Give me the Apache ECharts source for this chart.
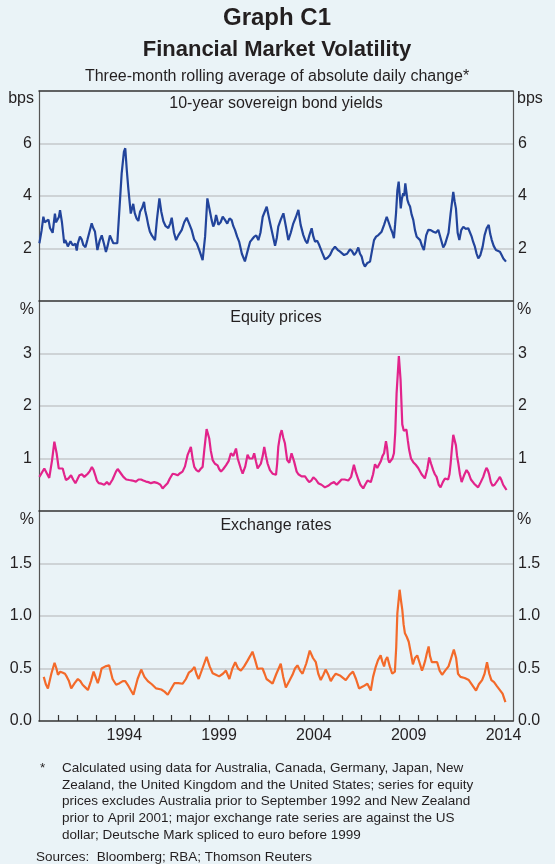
<!DOCTYPE html>
<html><head><meta charset="utf-8">
<script src="https://cdn.jsdelivr.net/npm/echarts@6/dist/echarts.min.js"></script>
<style>html,body{margin:0;padding:0;background:#EAF3F7;}#c{width:555px;height:864px;}</style>
</head><body><div id="c"></div>
<script>
// ---- data: [decimal year, value] ----
const bondYields = [[1990.02,2.2],[1990.14,2.7],[1990.23,3.21],[1990.3,3.0],[1990.4,2.96],[1990.5,3.1],[1990.58,2.78],[1990.72,2.6],[1990.84,3.33],[1990.9,3.0],[1990.97,2.96],[1991.05,3.2],[1991.11,3.46],[1991.21,3.0],[1991.33,2.2],[1991.38,2.32],[1991.46,2.2],[1991.52,2.08],[1991.6,2.1],[1991.66,2.28],[1991.72,2.25],[1991.78,2.12],[1991.85,2.05],[1991.92,2.18],[1991.99,1.92],[1992.05,2.2],[1992.16,2.45],[1992.25,2.35],[1992.34,2.13],[1992.45,2.05],[1992.55,2.32],[1992.65,2.6],[1992.78,2.96],[1992.85,2.8],[1992.95,2.65],[1993.08,1.94],[1993.2,2.3],[1993.31,2.5],[1993.42,2.2],[1993.53,1.87],[1993.62,2.1],[1993.74,2.5],[1993.83,2.35],[1993.92,2.2],[1994.13,2.2],[1994.24,3.47],[1994.36,4.86],[1994.48,5.69],[1994.55,5.82],[1994.63,4.99],[1994.71,4.29],[1994.84,3.33],[1994.97,3.7],[1995.05,3.35],[1995.15,3.14],[1995.24,3.05],[1995.33,3.4],[1995.44,3.55],[1995.54,3.78],[1995.6,3.45],[1995.68,3.2],[1995.76,2.9],[1995.85,2.64],[1995.95,2.5],[1996.12,2.32],[1996.22,3.1],[1996.35,3.91],[1996.45,3.4],[1996.56,3.04],[1996.68,2.85],[1996.82,2.78],[1996.92,2.95],[1997.0,3.17],[1997.12,2.6],[1997.23,2.32],[1997.35,2.5],[1997.53,2.71],[1997.66,3.0],[1997.79,3.17],[1997.92,2.95],[1998.05,2.71],[1998.18,2.35],[1998.32,2.2],[1998.45,1.95],[1998.63,1.56],[1998.76,2.45],[1998.88,3.91],[1999.02,3.4],[1999.1,3.1],[1999.19,2.84],[1999.26,2.95],[1999.34,3.28],[1999.4,3.1],[1999.46,2.9],[1999.58,3.0],[1999.69,3.21],[1999.8,3.1],[1999.93,2.95],[2000.05,3.15],[2000.16,3.08],[2000.25,2.85],[2000.34,2.7],[2000.45,2.45],[2000.56,2.25],[2000.7,1.8],[2000.86,1.51],[2001.0,1.9],[2001.13,2.25],[2001.24,2.35],[2001.34,2.44],[2001.46,2.5],[2001.57,2.32],[2001.68,2.6],[2001.8,3.21],[2002.01,3.59],[2002.18,3.0],[2002.3,2.6],[2002.45,2.1],[2002.54,2.4],[2002.62,2.83],[2002.75,3.1],[2002.89,3.34],[2003.02,2.85],[2003.15,2.32],[2003.28,2.6],[2003.41,2.95],[2003.55,3.2],[2003.68,3.47],[2003.8,2.9],[2003.94,2.51],[2004.05,2.3],[2004.15,2.2],[2004.26,2.5],[2004.38,2.77],[2004.47,2.45],[2004.56,2.26],[2004.67,2.3],[2004.78,2.13],[2004.93,1.85],[2005.08,1.59],[2005.22,1.65],[2005.35,1.75],[2005.48,1.95],[2005.61,2.07],[2005.75,1.95],[2005.88,1.88],[2005.98,1.85],[2006.09,1.75],[2006.25,1.8],[2006.4,1.97],[2006.51,1.9],[2006.62,1.75],[2006.73,1.85],[2006.84,2.04],[2006.93,1.8],[2007.02,1.69],[2007.1,1.45],[2007.19,1.31],[2007.32,1.45],[2007.46,1.5],[2007.56,1.9],[2007.67,2.32],[2007.78,2.45],[2007.9,2.51],[2007.98,2.55],[2008.07,2.64],[2008.2,2.9],[2008.34,3.21],[2008.44,3.0],[2008.55,2.77],[2008.64,2.6],[2008.72,2.39],[2008.78,2.9],[2008.83,3.34],[2008.9,4.2],[2008.97,4.55],[2009.08,3.53],[2009.14,3.9],[2009.21,4.1],[2009.26,4.0],[2009.32,4.48],[2009.43,3.85],[2009.5,3.7],[2009.57,3.6],[2009.65,3.3],[2009.74,3.09],[2009.83,2.7],[2009.92,2.45],[2010.0,2.4],[2010.1,2.32],[2010.2,2.1],[2010.3,1.94],[2010.42,2.5],[2010.53,2.71],[2010.66,2.7],[2010.8,2.64],[2010.93,2.6],[2011.06,2.71],[2011.18,2.4],[2011.32,2.04],[2011.41,2.15],[2011.5,2.2],[2011.6,2.6],[2011.71,3.34],[2011.85,4.16],[2011.92,3.8],[2011.99,3.53],[2012.08,2.6],[2012.17,2.32],[2012.27,2.7],[2012.38,2.83],[2012.5,2.75],[2012.64,2.77],[2012.73,2.7],[2012.82,2.45],[2012.9,2.25],[2012.99,2.07],[2013.08,1.8],[2013.17,1.62],[2013.28,1.75],[2013.4,2.07],[2013.5,2.5],[2013.61,2.77],[2013.72,2.9],[2013.8,2.55],[2013.88,2.32],[2013.98,2.1],[2014.1,1.94],[2014.2,1.95],[2014.31,1.88],[2014.4,1.75],[2014.49,1.62],[2014.56,1.58],[2014.63,1.5]];
const equityPrices = [[1990.02,0.65],[1990.28,0.81],[1990.54,0.63],[1990.69,0.97],[1990.81,1.32],[1990.93,1.1],[1991.04,0.81],[1991.12,0.84],[1991.25,0.81],[1991.33,0.7],[1991.42,0.59],[1991.55,0.62],[1991.69,0.68],[1991.8,0.6],[1991.92,0.53],[1992.02,0.6],[1992.13,0.68],[1992.26,0.7],[1992.39,0.65],[1992.48,0.66],[1992.57,0.71],[1992.68,0.76],[1992.79,0.84],[1992.88,0.78],[1992.97,0.68],[1993.05,0.58],[1993.15,0.53],[1993.3,0.52],[1993.44,0.5],[1993.58,0.55],[1993.71,0.5],[1993.88,0.6],[1994.06,0.75],[1994.15,0.8],[1994.24,0.81],[1994.35,0.7],[1994.45,0.65],[1994.6,0.6],[1994.76,0.59],[1994.93,0.58],[1995.11,0.56],[1995.25,0.6],[1995.38,0.6],[1995.5,0.58],[1995.64,0.56],[1995.77,0.55],[1995.9,0.53],[1996.08,0.55],[1996.26,0.53],[1996.4,0.5],[1996.52,0.43],[1996.65,0.48],[1996.78,0.53],[1996.9,0.62],[1997.05,0.71],[1997.18,0.7],[1997.31,0.68],[1997.44,0.72],[1997.57,0.75],[1997.7,0.85],[1997.84,1.07],[1998.01,1.22],[1998.1,1.0],[1998.19,0.84],[1998.3,0.78],[1998.42,0.75],[1998.52,0.8],[1998.63,0.84],[1998.72,1.17],[1998.84,1.56],[1998.98,1.38],[1999.06,1.15],[1999.16,0.97],[1999.28,0.9],[1999.42,0.87],[1999.5,0.8],[1999.6,0.75],[1999.72,0.8],[1999.86,0.87],[2000.0,0.95],[2000.12,1.1],[2000.25,1.05],[2000.39,1.19],[2000.48,1.0],[2000.56,0.97],[2000.65,0.8],[2000.74,0.71],[2000.88,0.85],[2001.0,1.07],[2001.1,1.0],[2001.18,0.97],[2001.26,1.0],[2001.35,1.1],[2001.44,0.95],[2001.53,0.81],[2001.62,0.82],[2001.7,0.9],[2001.8,1.05],[2001.88,1.22],[2001.97,1.05],[2002.06,0.9],[2002.18,0.78],[2002.32,0.71],[2002.4,0.68],[2002.5,0.69],[2002.56,0.9],[2002.62,1.22],[2002.72,1.45],[2002.8,1.54],[2002.88,1.4],[2002.97,1.29],[2003.09,0.97],[2003.2,0.92],[2003.32,1.1],[2003.45,0.95],[2003.59,0.75],[2003.68,0.7],[2003.85,0.66],[2003.95,0.65],[2004.03,0.66],[2004.14,0.6],[2004.25,0.55],[2004.36,0.58],[2004.47,0.64],[2004.6,0.6],[2004.73,0.53],[2004.9,0.5],[2005.08,0.45],[2005.25,0.48],[2005.43,0.53],[2005.56,0.55],[2005.7,0.5],[2005.83,0.55],[2005.96,0.6],[2006.12,0.6],[2006.31,0.58],[2006.46,0.65],[2006.61,0.88],[2006.7,0.75],[2006.84,0.6],[2006.95,0.5],[2007.1,0.43],[2007.2,0.5],[2007.33,0.58],[2007.42,0.6],[2007.5,0.55],[2007.62,0.7],[2007.72,0.89],[2007.84,0.82],[2007.94,0.84],[2008.03,0.95],[2008.12,1.05],[2008.2,1.1],[2008.3,1.33],[2008.36,1.2],[2008.42,0.98],[2008.48,0.92],[2008.54,0.9],[2008.64,1.0],[2008.72,1.1],[2008.79,1.5],[2008.86,2.24],[2008.98,2.95],[2009.07,2.5],[2009.16,1.65],[2009.24,1.53],[2009.3,1.5],[2009.38,1.55],[2009.45,1.35],[2009.52,1.17],[2009.62,1.0],[2009.74,0.93],[2009.87,0.88],[2010.0,0.82],[2010.18,0.7],[2010.35,0.62],[2010.48,0.8],[2010.58,1.02],[2010.68,0.9],[2010.79,0.78],[2010.88,0.7],[2010.97,0.65],[2011.08,0.5],[2011.18,0.45],[2011.3,0.55],[2011.41,0.62],[2011.5,0.62],[2011.58,0.6],[2011.65,0.7],[2011.71,0.9],[2011.78,1.2],[2011.85,1.45],[2011.92,1.35],[2011.99,1.25],[2012.05,1.05],[2012.11,0.92],[2012.2,0.7],[2012.29,0.55],[2012.42,0.68],[2012.55,0.78],[2012.66,0.72],[2012.78,0.6],[2012.95,0.52],[2013.16,0.45],[2013.3,0.55],[2013.43,0.65],[2013.52,0.75],[2013.6,0.82],[2013.67,0.78],[2013.74,0.7],[2013.83,0.55],[2013.92,0.48],[2014.03,0.5],[2014.13,0.53],[2014.22,0.6],[2014.31,0.65],[2014.4,0.58],[2014.48,0.5],[2014.57,0.45],[2014.66,0.4]];
const exchangeRates = [[1990.25,0.42],[1990.36,0.35],[1990.47,0.31],[1990.65,0.45],[1990.82,0.555],[1990.92,0.5],[1991.0,0.44],[1991.12,0.47],[1991.26,0.46],[1991.37,0.45],[1991.47,0.42],[1991.58,0.38],[1991.7,0.31],[1991.88,0.36],[1992.05,0.4],[1992.18,0.38],[1992.3,0.345],[1992.44,0.32],[1992.58,0.295],[1992.74,0.38],[1992.88,0.47],[1992.98,0.42],[1993.1,0.36],[1993.2,0.42],[1993.3,0.5],[1993.5,0.52],[1993.7,0.53],[1993.88,0.4],[1994.07,0.345],[1994.25,0.36],[1994.42,0.38],[1994.55,0.38],[1994.68,0.345],[1994.82,0.3],[1994.98,0.25],[1995.2,0.4],[1995.39,0.49],[1995.56,0.42],[1995.74,0.38],[1995.95,0.35],[1996.18,0.31],[1996.45,0.3],[1996.62,0.28],[1996.79,0.25],[1996.95,0.3],[1997.14,0.36],[1997.35,0.36],[1997.58,0.355],[1997.75,0.4],[1997.9,0.46],[1998.05,0.48],[1998.2,0.515],[1998.3,0.45],[1998.42,0.4],[1998.62,0.5],[1998.84,0.61],[1999.0,0.52],[1999.16,0.455],[1999.33,0.44],[1999.5,0.425],[1999.7,0.45],[1999.86,0.48],[2000.04,0.4],[2000.2,0.5],[2000.35,0.56],[2000.5,0.5],[2000.65,0.48],[2000.82,0.52],[2001.0,0.575],[2001.14,0.62],[2001.26,0.66],[2001.4,0.58],[2001.53,0.495],[2001.66,0.5],[2001.79,0.5],[2001.9,0.45],[2002.0,0.4],[2002.15,0.38],[2002.32,0.355],[2002.52,0.45],[2002.75,0.545],[2002.88,0.42],[2003.02,0.32],[2003.2,0.38],[2003.37,0.44],[2003.5,0.5],[2003.63,0.53],[2003.77,0.48],[2003.9,0.45],[2004.1,0.55],[2004.28,0.67],[2004.45,0.6],[2004.6,0.56],[2004.73,0.45],[2004.86,0.39],[2005.0,0.44],[2005.12,0.49],[2005.26,0.44],[2005.39,0.38],[2005.52,0.42],[2005.65,0.45],[2005.9,0.43],[2006.18,0.39],[2006.38,0.44],[2006.56,0.47],[2006.72,0.4],[2006.88,0.31],[2007.1,0.33],[2007.32,0.355],[2007.42,0.34],[2007.5,0.29],[2007.62,0.42],[2007.75,0.51],[2007.88,0.58],[2008.02,0.625],[2008.1,0.57],[2008.2,0.52],[2008.28,0.58],[2008.37,0.61],[2008.5,0.52],[2008.63,0.45],[2008.77,0.47],[2008.84,0.7],[2008.9,1.025],[2009.02,1.25],[2009.09,1.15],[2009.16,1.06],[2009.23,0.92],[2009.3,0.835],[2009.4,0.8],[2009.5,0.755],[2009.6,0.66],[2009.72,0.54],[2009.83,0.6],[2009.95,0.625],[2010.08,0.55],[2010.2,0.48],[2010.28,0.52],[2010.37,0.575],[2010.45,0.64],[2010.55,0.71],[2010.62,0.62],[2010.72,0.56],[2010.86,0.56],[2011.0,0.56],[2011.13,0.48],[2011.26,0.44],[2011.42,0.48],[2011.6,0.52],[2011.74,0.6],[2011.88,0.68],[2012.0,0.6],[2012.1,0.45],[2012.23,0.42],[2012.45,0.41],[2012.67,0.39],[2012.86,0.34],[2013.05,0.29],[2013.2,0.35],[2013.37,0.39],[2013.5,0.45],[2013.63,0.56],[2013.75,0.45],[2013.86,0.39],[2014.0,0.37],[2014.16,0.33],[2014.33,0.29],[2014.45,0.26],[2014.6,0.18]];
const yearTicks = [1991,1992,1993,1994,1995,1996,1997,1998,1999,2000,2001,2002,2003,2004,2005,2006,2007,2008,2009,2010,2011,2012,2013,2014];
const yearLabels = [1994,1999,2004,2009,2014];
const panelTitles = ['10-year sovereign bond yields','Equity prices','Exchange rates'];
const unitLabels = ['bps','%','%'];

const FONT = '"Liberation Sans", Arial, sans-serif';
const TXT = '#231f20';
const L = 39, R = 42, TOP = [91, 301, 511], H = 210;
const yCfg = [
  {min:0,max:8,interval:2,fmt:v=>String(v),showMin:false},
  {min:0,max:4,interval:1,fmt:v=>String(v),showMin:false},
  {min:0,max:2,interval:0.5,fmt:v=>v.toFixed(1),showMin:true}
];
const colors = ['#22449b','#e2238b','#f36a2a'];
const dataSets = [bondYields, equityPrices, exchangeRates].map(d => d.slice().sort((a,b)=>a[0]-b[0]));

const grid = TOP.map(t => ({left:L, right:R, top:t, height:H}));
const xAxis = [];
const yAxis = [];
for (let i=0;i<3;i++){
  const last = i===2;
  xAxis.push({
    type:'value', gridIndex:i, min:1990, max:2015, position:'bottom',
    axisLine:{show:true, onZero:false, lineStyle:{color:'#333', width:1.5}},
    axisTick:{show:last, inside:true, length:6, lineStyle:{color:'#333', width:1.2}, customValues: yearTicks},
    axisLabel:{show:last, customValues: yearLabels.map(y=>y+0.5), formatter:v=>String(Math.floor(v)), color:TXT, fontFamily:FONT, fontSize:16, margin:7},
    splitLine:{show:false}
  });
  ['left','right'].forEach(pos=>{
    yAxis.push({
      type:'value', gridIndex:i, position:pos, min:yCfg[i].min, max:yCfg[i].max, interval:yCfg[i].interval,
      axisLine:{show:true, lineStyle:{color:'#555', width:1.2}},
      axisTick:{show:false},
      axisLabel:{color:TXT, fontFamily:FONT, fontSize:16, margin:pos==='left'?7:5, showMaxLabel:false, showMinLabel:yCfg[i].showMin, formatter:yCfg[i].fmt},
      splitLine:{show:pos==='left', showMinLine:false, showMaxLine:false, lineStyle:{color:'#c4c8cb', width:1.5}}
    });
  });
}
xAxis.push({type:'value', gridIndex:0, min:1990, max:2015, position:'top',
  axisLine:{show:true, onZero:false, lineStyle:{color:'#333', width:1.5}},
  axisTick:{show:false}, axisLabel:{show:false}, splitLine:{show:false}});

const series = dataSets.map((d,i)=>({
  type:'line', xAxisIndex:i, yAxisIndex:i*2, data:d, showSymbol:false, symbol:'none',
  lineStyle:{color:colors[i], width:2.2}, z:5, animation:false
}));

const graphic = [];
const T = (x,y,text,opt={}) => graphic.push({type:'text', x, y, silent:true, style:Object.assign({text, fill:TXT, font:'16px '+FONT, textAlign:'center', textVerticalAlign:'middle'}, opt)});
T(277,18,'Graph C1',{font:'bold 24px '+FONT});
T(277,50,'Financial Market Volatility',{font:'bold 22px '+FONT});
T(277,77,'Three-month rolling average of absolute daily change*',{font:'16px '+FONT});
const titleY = [104, 318, 526];
const unitY = [99, 310, 520];
for (let i=0;i<3;i++){
  T(276,titleY[i],panelTitles[i]);
  T(34,unitY[i],unitLabels[i],{textAlign:'right'});
  T(517,unitY[i],unitLabels[i],{textAlign:'left'});
}
const foot = ['Calculated using data for Australia, Canada, Germany, Japan, New',
 'Zealand, the United Kingdom and the United States; series for equity',
 'prices excludes Australia prior to September 1992 and New Zealand',
 'prior to April 2001; major exchange rate series are against the US',
 'dollar; Deutsche Mark spliced to euro before 1999'];
T(40,768,'*',{textAlign:'left',font:'13.5px '+FONT});
foot.forEach((s,k)=>T(62,768+16.8*k,s,{textAlign:'left',font:'13.5px '+FONT}));
T(36,857,'Sources:  Bloomberg; RBA; Thomson Reuters',{textAlign:'left',font:'13.5px '+FONT});

const chart = echarts.init(document.getElementById('c'), null, {renderer:'canvas'});
chart.setOption({backgroundColor:'#EAF3F7', animation:false, grid, xAxis, yAxis, series, graphic});
</script></body></html>
